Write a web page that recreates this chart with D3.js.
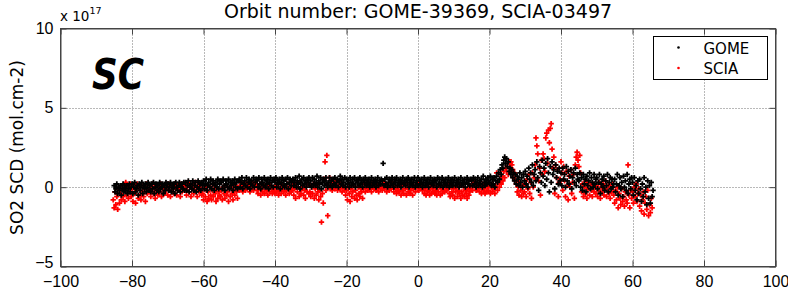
<!DOCTYPE html>
<html>
<head>
<meta charset="utf-8">
<script src="https://cdn.jsdelivr.net/npm/d3@7"></script>
<style>
  body { margin: 0; background: #fff; }
  svg { display: block; }
</style>
</head>
<body>
<svg id="chart"></svg>
<script>
// SO2 slant columns along the orbit, in units of 1e16 molec/cm2, one value every 0.25 deg latitude
const latStep = 0.25;
const gomeLatStart = -85;
const sciaLatStart = -85.25;

const gomeScd = [
  1, -3, -1, 2, -4, 0, -2, 1, -5, -1, 2, -3, 0, -2, 1, -4, -1, 2, -3, 0,
  2, -4, 0, 3, -3, -1, 1, -5, 2, -2, 0, 3, -4, 1, -1, 2, -3, 0, 3, -2,
  1, -3, 2, -1, 3, -4, 0, 2, -2, 1, -3, 3, -1, 0, 2, -4, 1, -2, 3, 0,
  2, -2, 0, 3, -3, 1, -1, 2, -4, 3, 0, -2, 1, 3, -3, 0, 2, -1, 3, -2,
  3, -2, 1, 4, -3, 0, 2, -1, 4, -2, 1, 3, -3, 0, 4, -1, 2, -2, 3, 1,
  4, -1, 2, 5, -2, 1, 3, 0, 5, -1, 2, 4, -2, 1, 3, 0, 5, -1, 2, 4,
  3, -1, 5, 1, -2, 4, 2, 0, 5, -1, 3, 1, 4, -2, 2, 5, 0, 3, -1, 4,
  5, 0, 3, 6, -1, 2, 4, 1, 6, 0, 3, 5, -1, 2, 4, 1, 6, 0, 3, 5,
  4, 0, 6, 2, -1, 5, 3, 1, 6, 0, 4, 2, 5, -1, 3, 6, 1, 4, 0, 5,
  3, 6, 0, 4, 2, 5, -1, 3, 6, 1, 4, 0, 5, 2, 6, -1, 3, 5, 1, 4,
  5, 1, 3, 6, 0, 4, 2, 7, -1, 3, 5, 1, 6, 2, 4, 0, 5, 3, 6, 1,
  4, 0, 6, 2, 5, 1, 3, 7, 0, 4, 2, 6, -1, 3, 5, 1, 4, 6, 2, 0,
  3, 6, 1, 4, 0, 5, 2, 6, 1, 3, 5, 0, 4, 7, 2, 5, 1, 3, 6, 0,
  5, 2, 4, 0, 6, 3, 1, 5, 2, 6, 0, 4, 3, 5, 1, 6, 2, 4, 0, 5,
  3, 6, 1, 4, 2, 5, 0, 3, 6, 1, 4, 2, 5, 0, 3, 6, 1, 4, 2, 5,
  4, 15, 1, 5, 2, 6, 0, 3, 5, 1, 4, 6, 2, 0, 5, 3, 6, 1, 4, 2,
  5, 0, 3, 6, 2, 4, 1, 5, 3, 6, 0, 4, 2, 5, 1, 3, 6, 0, 4, 2,
  6, 1, 4, 2, 5, 0, 3, 6, 1, 4, 2, 5, 0, 3, 6, 2, 4, 1, 5, 3,
  4, 0, 6, 2, 5, 1, 3, 6, 0, 4, 2, 5, 1, 3, 6, 0, 4, 2, 5, 1,
  3, 6, 1, 4, 2, 5, 0, 3, 6, 1, 4, 2, 5, 0, 3, 6, 2, 4, 1, 5,
  4, 1, 6, 2, 5, 0, 3, 6, 1, 4, 2, 5, 0, 7, 3, 1, 5, 2, 6, 4,
  3, 7, 1, 5, 2, 6, 0, 4, 7, 3, 9, 5, 11, 8, 14, 12, 17, 19, 15, 18,
  13, 16, 10, 12, 8, 11, 6, 9, 4, 8, 2, 7, 5, 1, 9, 3, 6, 0, 8, 4,
  10, 2, 7, 0, 12, 5, 9, 3, 14, 1, 8, 11, 4, 16, 6, -2, 13, 9, 3, 17,
  7, 12, 1, 15, 5, 18, 9, -3, 13, 3, 16, 8, 11, -1, 14, 6, 10, 2, 12, 4,
  9, 1, 12, 5, 8, 0, 13, 4, 10, 2, 7, 11, -1, 6, 9, 3, 12, 1, 8, 5,
  4, 9, 0, 6, -2, 8, 2, 5, -3, 7, 1, 4, 9, -1, 6, 3, 0, 8, 2, 5,
  6, -1, 3, 8, -4, 2, 5, 0, 7, -2, 4, 1, 8, -3, 3, 6, -1, 5, 0, 2,
  5, -3, 2, 8, -5, 1, 6, -1, 3, -6, 7, 0, 4, -2, 8, -4, 2, 5, -1, 6,
  3, -5, 6, -2, 1, -8, 4, -4, 5, -1, -9, 2, -6, 6, -3, 0, -11, 4, -7, 1,
  -10, 3, -6, -2
];

const sciaScd = [
  -8, -13, -3, -11, -6, -14, -1, -10, -4, -8, 1, -6, -2, -9, 3, -5, 0, -7, -3, 2,
  -6, -1, -9, 1, -4, -10, -2, 2, -7, 0, -5, -8, 1, -3, -6, -1, -9, 2, -4, -2,
  -3, 1, -6, -1, 2, -4, 0, -7, -2, 1, -5, 0, -3, 2, -6, -1, 1, -4, 0, -2,
  0, -5, 2, -2, -6, 1, -3, 0, -4, 2, -1, -5, 1, -2, 0, -6, 2, -3, -1, 1,
  -2, 2, -5, 0, 3, -3, 1, -6, -1, 2, -4, 0, 3, -2, -6, 1, -3, 2, -1, -5,
  -4, -8, -1, -6, 1, -9, -3, -7, 0, -5, -8, -2, -6, 1, -4, -9, -1, -7, -3, -5,
  -6, -2, -8, 0, -4, -7, 1, -5, -3, -9, -1, -6, 0, -4, -8, -2, -5, 1, -3, -7,
  0, -2, 3, -1, 2, -3, 1, 0, -2, 3, -1, 2, 0, -3, 1, -1, 3, -2, 0, 2,
  1, -2, -4, 0, 2, -5, -1, -3, 1, -4, 0, -2, 2, -5, -1, -3, 1, 0, -4, -2,
  -1, -4, 1, -3, 0, -5, -2, 2, -4, -1, 0, -3, 1, -5, -2, 2, -1, -4, 0, -3,
  -2, 1, -5, -1, -7, 2, -3, 0, -6, 3, -4, -1, 1, -5, -2, -7, 0, -3, 2, -4,
  -3, -6, 0, -4, 2, -7, -1, -5, 1, -3, -8, -2, -6, -22, -4, -10, 5, 16, -2, 20,
  -18, 1, 6, -1, 3, -2, 0, 2, -1, 4, 1, -2, 3, 0, -1, 2, -3, 1, 0, -2,
  -5, -2, -8, 0, -4, -9, -1, -6, -3, 1, -7, -2, -5, -8, 0, -4, -6, -1, -3, -7,
  -1, 2, -3, 0, 3, -2, 1, -1, 2, -3, 0, 3, -1, 1, -2, 2, 0, -3, 1, -1,
  1, -2, 0, 3, -1, 2, -3, 0, 1, -2, 3, -1, 0, 2, -3, 1, -1, -4, 0, -2,
  -3, 0, -5, 1, -2, -4, 2, -1, -5, 0, -3, 1, -4, -2, 2, -5, -1, 0, -3, 1,
  0, 2, -2, 3, -1, 1, -2, 0, -4, -1, -5, 1, -3, -2, -5, 0, -4, -1, -3, 1,
  -4, -2, -5, 0, -3, 1, -5, -1, -4, -2, 0, -3, 1, -2, -1, 2, -4, -6, 0, -3,
  -5, -1, -7, -3, 0, -6, -2, -4, 1, -7, -3, -5, 0, -6, -2, -4, -7, -1, -5, -3,
  -1, 2, -2, 1, 3, 0, -2, 2, -1, 1, -3, 0, -4, 2, -2, -1, -4, 1, -3, 0,
  -2, 1, -4, 0, -3, 2, -1, -4, 1, 9, -2, 3, 0, 5, 2, 7, 4, 10, 6, 12,
  10, 13, 8, 16, 15, 16, 14, 11, 6, 9, 4, 2, -3, 0, -5, 3, -2, -6, 1, -4,
  -3, 2, -6, 5, -1, 8, -4, 3, -7, 9, 0, 6, 14, 31, 26, 21, 4, 12, -5, 17,
  8, 21, 18, 10, 31, 34, 15, 36, 28, 37, 40, 24, 12, 19, -4, 14, 6, 11, -6, 3,
  5, 16, 9, -2, 13, 4, -6, 10, 1, -8, 7, 0, 11, -4, 3, 8, -7, 14, 19, 22,
  17, 13, 20, 9, -3, 2, -6, 0, -4, 4, -7, -1, 3, -5, 1, -2, -6, 2, -3, 0,
  -4, 1, -6, -2, 3, -7, 0, -3, 2, -5, -1, 4, -6, -2, 1, -4, -7, 0, -3, 2,
  -5, -10, -2, -8, 0, -13, -4, -7, -11, -1, -9, -6, -12, -3, -8, -10, 14, -5, -13, -2,
  -7, -3, -10, 0, -6, 2, -9, -4, -1, -12, -5, -15, -8, -3, -17, -10, -6, -14, -2, -18,
  -11, -16, -7, -13
];

const xTicks = [-100, -80, -60, -40, -20, 0, 20, 40, 60, 80, 100];
const yTicks = [-5e17, 0, 5e17, 10e17];
const seriesNames = ['GOME', 'SCIA'];
const seriesColors = ['#000000', '#ff0000'];

const width = 788, height = 291;
const margin = { top: 28, right: 13, bottom: 25, left: 60 };
const fontFamily = '"DejaVu Sans", "Liberation Sans", Arial, sans-serif';
const tickFont = '"Liberation Sans", Arial, sans-serif';

const svg = d3.select('#chart')
    .attr('width', width)
    .attr('height', height)
    .style('font-family', fontFamily);

const x = d3.scaleLinear().domain([-100, 100]).range([margin.left + 0.5, width - margin.right + 0.5]);
const y = d3.scaleLinear().domain([-5e17, 10e17]).range([height - margin.bottom + 0.5, margin.top + 0.5]);

const x0 = x.range()[0], x1 = x.range()[1];
const y0 = y.range()[0], y1 = y.range()[1];

// dotted grid
const grid = svg.append('g')
    .attr('stroke', '#000')
    .attr('stroke-width', 1)
    .attr('stroke-dasharray', '1,2')
    .attr('stroke-opacity', 0.55);

grid.selectAll('.gx')
    .data(xTicks.slice(1, -1))
    .enter().append('line')
    .attr('x1', d => Math.round(x(d)) + 0.5)
    .attr('x2', d => Math.round(x(d)) + 0.5)
    .attr('y1', y1)
    .attr('y2', y0);

grid.selectAll('.gy')
    .data(yTicks.slice(1, -1))
    .enter().append('line')
    .attr('x1', x0)
    .attr('x2', x1)
    .attr('y1', d => Math.round(y(d)) + 0.5)
    .attr('y2', d => Math.round(y(d)) + 0.5);

// points: SCIA first so GOME sits on top like in the original
function toPoints(values, start) {
    return values.map((v, i) => ({ lat: start + i * latStep, scd: v * 1e16 }));
}

const gomePts = toPoints(gomeScd, gomeLatStart);
const sciaPts = toPoints(sciaScd, sciaLatStart);

const marker = d3.symbol().type(d3.symbolCross).size(16);

svg.append('g')
    .attr('fill', seriesColors[1])
    .selectAll('path')
    .data(sciaPts)
    .enter().append('path')
    .attr('d', marker)
    .attr('transform', d => `translate(${x(d.lat)},${y(d.scd)})`);

svg.append('g')
    .attr('fill', seriesColors[0])
    .selectAll('path')
    .data(gomePts)
    .enter().append('path')
    .attr('d', marker)
    .attr('transform', d => `translate(${x(d.lat)},${y(d.scd)})`);

// axes (inward ticks on all four sides, matlab style)
const axisColor = '#444';
const fmtTick = v => String(v).replace('-', '\u2212');

const bottomAxis = svg.append('g')
    .attr('transform', `translate(0,${y0})`)
    .call(d3.axisBottom(x).tickValues(xTicks).tickSizeInner(-6).tickSizeOuter(0).tickPadding(9)
        .tickFormat(fmtTick));

const topAxis = svg.append('g')
    .attr('transform', `translate(0,${y1})`)
    .call(d3.axisTop(x).tickValues(xTicks).tickSizeInner(-6).tickSizeOuter(0).tickFormat(''));

const leftAxis = svg.append('g')
    .attr('transform', `translate(${x0},0)`)
    .call(d3.axisLeft(y).tickValues(yTicks).tickSizeInner(-6).tickSizeOuter(0).tickPadding(7)
        .tickFormat(d => fmtTick(d / 1e17)));

const rightAxis = svg.append('g')
    .attr('transform', `translate(${x1},0)`)
    .call(d3.axisRight(y).tickValues(yTicks).tickSizeInner(-6).tickSizeOuter(0).tickFormat(''));

[bottomAxis, topAxis, leftAxis, rightAxis].forEach(a => {
    a.select('.domain').attr('stroke', axisColor);
    a.selectAll('.tick line').attr('stroke', axisColor);
    a.selectAll('.tick text')
        .attr('fill', '#000')
        .style('font-size', '16px')
        .style('font-family', tickFont);
});

// lowest y label sits a bit higher so it clears the x labels
leftAxis.selectAll('.tick text').filter(d => d === -5e17).attr('dy', '0.05em');

// axes box
svg.append('rect')
    .attr('x', x0)
    .attr('y', y1)
    .attr('width', x1 - x0)
    .attr('height', y0 - y1)
    .attr('fill', 'none')
    .attr('stroke', axisColor);

// exponent label
const expo = svg.append('text')
    .attr('x', 60)
    .attr('y', 21)
    .style('font-size', '13.5px');
expo.append('tspan').text('x 10');
expo.append('tspan').attr('dy', -7).style('font-size', '9.5px').text('17');

// title
svg.append('text')
    .attr('x', (x0 + x1) / 2)
    .attr('y', 18)
    .attr('text-anchor', 'middle')
    .style('font-size', '19px')
    .text('Orbit number: GOME-39369, SCIA-03497');

// y label
svg.append('text')
    .attr('transform', `translate(23,${(y0 + y1) / 2}) rotate(-90)`)
    .attr('text-anchor', 'middle')
    .style('font-size', '17px')
    .text('SO2 SCD (mol.cm-2)');

// big "SC" tag
svg.append('text')
    .attr('x', 92)
    .attr('y', 89)
    .attr('textLength', 52)
    .attr('lengthAdjust', 'spacingAndGlyphs')
    .style('font-size', '43px')
    .style('font-weight', 'bold')
    .style('font-style', 'italic')
    .text('SC');

// legend
const legend = svg.append('g').attr('transform', 'translate(653.5,36.5)');
legend.append('rect')
    .attr('width', 114)
    .attr('height', 43)
    .attr('fill', '#fff')
    .attr('stroke', '#000');

const item = legend.selectAll('.item')
    .data(seriesNames)
    .enter().append('g')
    .attr('transform', (d, i) => `translate(0,${11 + i * 20.5})`);

item.append('circle')
    .attr('cx', 25)
    .attr('cy', 0)
    .attr('r', 1.3)
    .attr('fill', (d, i) => seriesColors[i]);

item.append('text')
    .attr('x', 50)
    .attr('y', 6)
    .style('font-size', '15px')
    .text(d => d);
</script>
</body>
</html>
